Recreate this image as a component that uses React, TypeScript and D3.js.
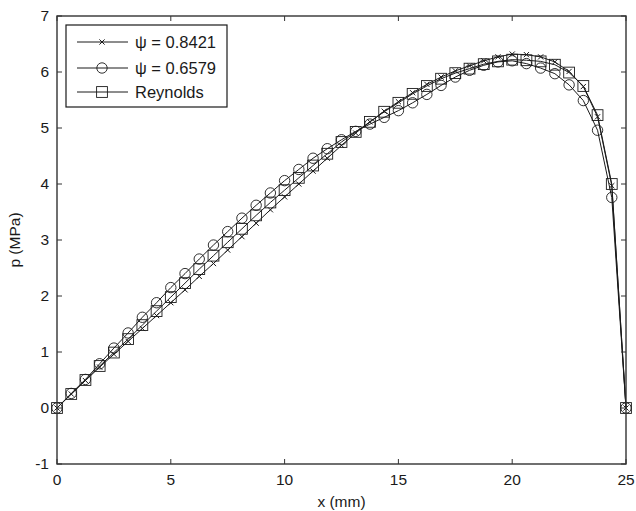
import React from "react";
import * as d3 from "d3";

const xStep = 0.625;
const nPoints = 41;
const xValues: number[] = Array.from({ length: nPoints }, (_, i) => i * xStep);

const psi8421: number[] = [
  0, 0.25, 0.49, 0.73, 0.96, 1.19, 1.42, 1.65, 1.88, 2.11, 2.35, 2.58, 2.82, 3.06,
  3.3, 3.54, 3.77, 4.0, 4.23, 4.46, 4.69, 4.91, 5.11, 5.3, 5.47, 5.63, 5.78, 5.91,
  6.02, 6.11, 6.2, 6.27, 6.32, 6.31, 6.27, 6.18, 6.01, 5.74, 5.2, 3.97, 0,
];
const psi6579: number[] = [
  0, 0.26, 0.51, 0.79, 1.07, 1.34, 1.62, 1.88, 2.15, 2.4, 2.66, 2.91, 3.15, 3.39,
  3.62, 3.84, 4.06, 4.26, 4.46, 4.63, 4.79, 4.94, 5.07, 5.19, 5.31, 5.45, 5.6, 5.76,
  5.91, 6.03, 6.12, 6.18, 6.2, 6.15, 6.07, 5.97, 5.77, 5.49, 4.96, 3.76, 0,
];
const reynolds: number[] = [
  0, 0.25, 0.5, 0.75, 0.99, 1.23, 1.48, 1.73, 1.98, 2.23, 2.48, 2.72, 2.96, 3.2,
  3.44, 3.67, 3.89, 4.11, 4.33, 4.54, 4.75, 4.93, 5.11, 5.29, 5.45, 5.61, 5.75, 5.88,
  5.98, 6.06, 6.14, 6.19, 6.22, 6.21, 6.19, 6.13, 5.99, 5.75, 5.23, 4.0, 0,
];

const seriesNames: string[] = ["\u03c8 = 0.8421", "\u03c8 = 0.6579", "Reynolds"];
const xTicks: number[] = [0, 5, 10, 15, 20, 25];
const yTicks: number[] = [-1, 0, 1, 2, 3, 4, 5, 6, 7];
const xLabel = "x (mm)";
const yLabel = "p (MPa)";

const W = 636;
const H = 511;
const L = 57, R = 626, T = 16, B = 464;
const FONT = "'Liberation Sans', Arial, Helvetica, sans-serif";
const INK = "#1a1a1a";

type MarkerKind = "cross" | "circle" | "square";

function Marker({ kind, x, y }: { kind: MarkerKind; x: number; y: number }) {
  if (kind === "cross") {
    const s = 2.6;
    return (
      <path
        d={`M${x - s},${y - s}L${x + s},${y + s}M${x - s},${y + s}L${x + s},${y - s}`}
        stroke={INK}
        strokeWidth={1}
        fill="none"
      />
    );
  }
  if (kind === "circle") {
    return <circle cx={x} cy={y} r={5.2} fill="none" stroke={INK} strokeWidth={0.9} />;
  }
  const h = 5.4;
  return <rect x={x - h} y={y - h} width={2 * h} height={2 * h} fill="none" stroke={INK} strokeWidth={0.9} />;
}

export default function App() {
  const xScale = d3.scaleLinear().domain([0, 25]).range([L, R]);
  const yScale = d3.scaleLinear().domain([-1, 7]).range([B, T]);
  const line = d3
    .line<number>()
    .x((_, i) => xScale(xValues[i]))
    .y((d) => yScale(d))
    .curve(d3.curveLinear);

  const series: { name: string; values: number[]; kind: MarkerKind }[] = [
    { name: seriesNames[0], values: psi8421, kind: "cross" },
    { name: seriesNames[1], values: psi6579, kind: "circle" },
    { name: seriesNames[2], values: reynolds, kind: "square" },
  ];

  const tickLen = 5;
  const legend = { x: 66, y: 25, w: 161, h: 82 };
  const legendRows = [42, 68, 92];

  return (
    <svg
      width={W}
      height={H}
      style={{ position: "absolute", left: 0, top: 0, background: "#fff" }}
      fontFamily={FONT}
    >
      <rect x={0} y={0} width={W} height={H} fill="#fff" />
      {/* series */}
      {series.map((s) => (
        <g key={s.name}>
          <path d={line(s.values) || ""} fill="none" stroke={INK} strokeWidth={1} />
          {s.values.map((v, i) => (
            <Marker key={i} kind={s.kind} x={xScale(xValues[i])} y={yScale(v)} />
          ))}
        </g>
      ))}
      {/* frame */}
      <rect x={L} y={T} width={R - L} height={B - T} fill="none" stroke="#333" strokeWidth={1.4} />
      {/* ticks */}
      {xTicks.map((t) => (
        <g key={"xt" + t}>
          <line x1={xScale(t)} x2={xScale(t)} y1={B} y2={B - tickLen} stroke="#333" />
          <line x1={xScale(t)} x2={xScale(t)} y1={T} y2={T + tickLen} stroke="#333" />
          <text x={xScale(t)} y={B + 21} textAnchor="middle" fontSize={15.5} fill={INK}>
            {t}
          </text>
        </g>
      ))}
      {yTicks.map((t) => (
        <g key={"yt" + t}>
          <line x1={L} x2={L + tickLen} y1={yScale(t)} y2={yScale(t)} stroke="#333" />
          <line x1={R} x2={R - tickLen} y1={yScale(t)} y2={yScale(t)} stroke="#333" />
          <text x={L - 8} y={yScale(t)} dy="0.35em" textAnchor="end" fontSize={15.5} fill={INK}>
            {t}
          </text>
        </g>
      ))}
      {/* axis labels */}
      <text x={(L + R) / 2} y={507} textAnchor="middle" fontSize={15.5} fill={INK}>
        {xLabel}
      </text>
      <text
        transform={`translate(20,${(T + B) / 2}) rotate(-90)`}
        textAnchor="middle"
        fontSize={15.5}
        fill={INK}
      >
        {yLabel}
      </text>
      {/* legend */}
      <rect x={legend.x} y={legend.y} width={legend.w} height={legend.h} fill="#fff" stroke={INK} strokeWidth={1.2} />
      {series.map((s, i) => (
        <g key={"lg" + s.name}>
          <line x1={77} x2={128} y1={legendRows[i]} y2={legendRows[i]} stroke={INK} strokeWidth={1} />
          <Marker kind={s.kind} x={102} y={legendRows[i]} />
          <text x={135} y={legendRows[i]} dy="0.35em" fontSize={16.5} fill={INK}>
            {s.name}
          </text>
        </g>
      ))}
    </svg>
  );
}
